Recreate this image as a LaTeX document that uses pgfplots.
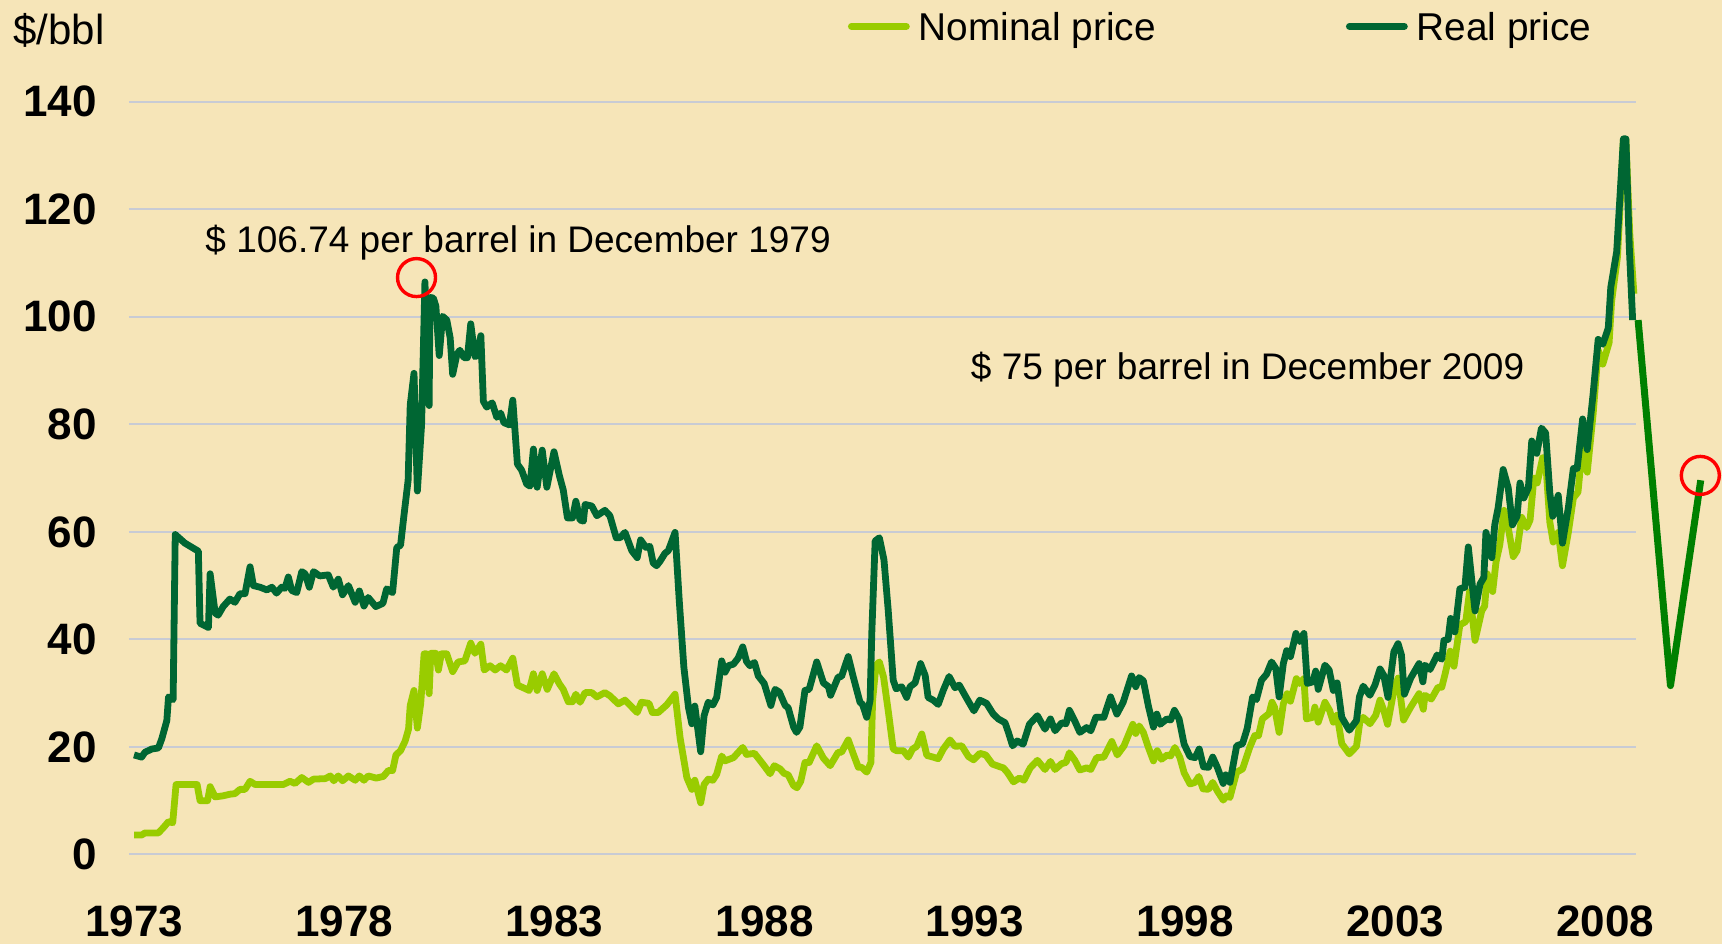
\documentclass[border=0pt]{standalone}
\usepackage{fontspec}
\setmainfont{Liberation Sans}
\usepackage{pgfplots}
\pgfplotsset{compat=1.18}
\definecolor{bgcol}{HTML}{F6E5B8}
\definecolor{nomcol}{HTML}{99CC00}
\definecolor{realcol}{HTML}{006633}
\definecolor{extcol}{HTML}{008000}
\definecolor{gridcol}{HTML}{C8CBD4}
\begin{document}
\begin{tikzpicture}
\path[fill=bgcol, use as bounding box] (-64.5pt,-44.8pt) rectangle (796.5pt,427.2pt);
\begin{axis}[
  at={(0pt,0pt)}, anchor=south west,
  scale only axis, width=753.5pt, height=376.3pt,
  xmin=1972.88, xmax=2008.73, ymin=0, ymax=140,
  axis line style={draw=none},
  major tick length=0pt,
  xtick={1973,1978,1983,1988,1993,1998,2003,2008},
  xticklabels={1973,1978,1983,1988,1993,1998,2003,2008},
  ytick={0,20,40,60,80,100,120,140},
  yticklabels={0,20,40,60,80,100,120,140},
  xticklabel style={font=\fontsize{22}{22}\selectfont\bfseries, anchor=base, inner sep=0pt, yshift=-40.8pt},
  yticklabel style={font=\fontsize{22}{22}\selectfont\bfseries, anchor=east, inner sep=0pt, xshift=-16pt},
  ymajorgrids, grid style={gridcol, line width=1pt},
  clip=false,
  legend columns=2,
  legend cell align=left,
  legend style={at={(0.4771,1.1002)}, anchor=west, draw=none, fill=none, inner sep=0pt, outer sep=0pt,
    font=\fontsize{19.4}{20}\selectfont, nodes={inner sep=0pt, text depth=0pt},
    column sep=4.5pt, /tikz/every even column/.append style={column sep=95pt}},
  legend image code/.code={\draw[#1, line cap=round] (1.5pt,0pt) -- (29pt,0pt);},
]
\addplot[nomcol, line width=3.4pt, line join=round] table {
1973.00 3.6
1973.18 3.6
1973.26 4.0
1973.58 4.0
1973.70 5.0
1973.82 6.1
1973.92 5.9
1974.00 13.0
1974.50 13.0
1974.57 10.0
1974.75 10.0
1974.81 12.6
1974.93 10.7
1975.12 10.9
1975.28 11.2
1975.40 11.3
1975.52 12.1
1975.64 12.1
1975.76 13.6
1975.88 13.0
1976.55 13.0
1976.71 13.6
1976.83 13.2
1976.99 14.3
1977.15 13.4
1977.27 14.0
1977.55 14.1
1977.67 14.6
1977.75 13.7
1977.86 14.6
1977.96 13.7
1978.10 14.6
1978.26 13.8
1978.36 14.6
1978.47 13.8
1978.57 14.6
1978.76 14.2
1978.93 14.5
1979.05 15.6
1979.15 15.6
1979.23 18.5
1979.34 19.3
1979.45 21.1
1979.53 23.3
1979.57 27.7
1979.66 30.5
1979.74 23.5
1979.82 28.1
1979.90 37.3
1979.96 37.3
1980.02 29.9
1980.06 37.4
1980.18 37.4
1980.24 34.3
1980.31 37.3
1980.44 37.3
1980.58 34.0
1980.71 35.8
1980.87 36.0
1981.01 39.3
1981.11 37.4
1981.25 39.1
1981.33 34.3
1981.47 35.1
1981.59 34.3
1981.72 35.1
1981.86 34.3
1982.01 36.5
1982.12 31.5
1982.26 31.0
1982.40 30.5
1982.50 33.6
1982.59 30.5
1982.71 33.6
1982.83 30.7
1982.99 33.6
1983.12 31.7
1983.21 30.7
1983.33 28.4
1983.43 28.4
1983.51 29.8
1983.61 28.3
1983.73 30.1
1983.89 30.1
1984.01 29.3
1984.20 30.1
1984.32 29.5
1984.52 28.0
1984.68 28.7
1984.97 26.4
1985.07 28.3
1985.25 28.1
1985.33 26.4
1985.47 26.4
1985.67 27.8
1985.87 29.8
1985.99 21.7
1986.15 14.3
1986.27 12.1
1986.34 13.8
1986.48 9.6
1986.56 13.0
1986.66 14.0
1986.77 13.8
1986.86 14.9
1986.98 18.3
1987.06 17.4
1987.26 18.0
1987.48 19.9
1987.57 18.6
1987.76 18.8
1987.97 16.7
1988.13 15.0
1988.23 16.5
1988.37 15.9
1988.46 15.1
1988.56 14.8
1988.69 12.8
1988.77 12.4
1988.86 13.6
1988.96 17.1
1989.06 17.1
1989.24 20.2
1989.40 17.9
1989.56 16.5
1989.75 19.0
1989.83 19.0
1989.99 21.3
1990.11 18.7
1990.23 16.2
1990.31 16.2
1990.43 15.3
1990.53 17.1
1990.57 28.7
1990.65 35.2
1990.73 35.8
1990.83 33.0
1990.94 26.8
1991.06 19.6
1991.14 19.3
1991.30 19.3
1991.42 18.1
1991.52 19.6
1991.62 20.1
1991.74 22.4
1991.86 18.4
1992.01 18.1
1992.13 17.8
1992.25 19.6
1992.41 21.3
1992.53 20.1
1992.69 20.2
1992.85 18.2
1992.97 17.6
1993.12 18.8
1993.26 18.5
1993.42 16.8
1993.60 16.3
1993.68 16.1
1993.78 15.2
1993.92 13.5
1994.06 14.2
1994.17 13.8
1994.32 16.1
1994.49 17.5
1994.67 15.8
1994.80 17.3
1994.91 15.8
1995.07 16.9
1995.17 17.1
1995.25 18.9
1995.38 17.5
1995.50 15.7
1995.66 16.1
1995.76 15.8
1995.90 18.0
1996.07 18.1
1996.26 21.0
1996.39 18.5
1996.55 20.2
1996.76 24.2
1996.83 22.5
1996.91 23.9
1997.01 22.7
1997.13 19.9
1997.25 17.4
1997.34 19.3
1997.44 17.7
1997.58 18.5
1997.66 18.3
1997.76 19.9
1997.88 18.0
1997.98 15.2
1998.12 13.1
1998.24 13.4
1998.33 14.5
1998.43 12.2
1998.56 12.1
1998.66 13.4
1998.77 11.8
1998.91 10.1
1998.99 10.9
1999.07 10.6
1999.23 15.3
1999.37 15.9
1999.54 19.9
1999.66 22.1
1999.75 22.1
1999.84 25.2
2000.00 26.2
2000.07 28.3
2000.13 27.4
2000.24 22.7
2000.34 28.0
2000.43 29.9
2000.51 28.5
2000.65 32.7
2000.73 31.8
2000.83 32.7
2000.89 25.2
2001.04 25.5
2001.09 27.4
2001.17 24.6
2001.33 28.3
2001.44 26.8
2001.53 24.6
2001.62 25.9
2001.73 20.6
2001.91 18.7
2002.08 20.1
2002.16 24.6
2002.24 25.5
2002.40 24.3
2002.54 25.9
2002.64 28.7
2002.73 26.8
2002.82 24.2
2002.97 30.5
2003.07 32.8
2003.20 25.0
2003.37 27.4
2003.57 29.9
2003.67 27.0
2003.71 29.6
2003.86 28.9
2004.02 31.1
2004.11 31.1
2004.19 33.6
2004.31 37.8
2004.40 35.0
2004.54 42.7
2004.68 43.3
2004.77 48.9
2004.90 39.8
2005.06 45.3
2005.13 46.2
2005.19 52.2
2005.32 48.9
2005.40 54.4
2005.49 57.6
2005.59 64.0
2005.69 60.8
2005.81 55.4
2005.90 56.5
2006.01 62.7
2006.13 60.8
2006.21 62.2
2006.30 70.0
2006.38 69.1
2006.51 73.8
2006.60 70.9
2006.68 61.8
2006.76 58.1
2006.88 59.9
2006.98 53.7
2007.12 59.9
2007.24 66.3
2007.35 67.4
2007.46 76.4
2007.57 71.1
2007.71 81.9
2007.83 93.8
2007.94 91.2
2008.09 95.2
2008.15 102.9
2008.29 111.2
2008.43 132.9
2008.49 132.9
2008.58 115.7
2008.68 104.3
};
\addlegendentry{Nominal price}
\addplot[realcol, line width=3.4pt, line join=round] table {
1973.00 18.5
1973.18 18.1
1973.26 19.0
1973.42 19.6
1973.58 19.8
1973.66 21.5
1973.78 24.9
1973.82 29.3
1973.93 28.8
1973.98 59.5
1974.21 57.9
1974.53 56.4
1974.57 43.0
1974.77 42.2
1974.81 52.2
1974.93 44.9
1975.00 44.5
1975.12 46.1
1975.28 47.5
1975.40 46.9
1975.52 48.5
1975.64 48.5
1975.76 53.5
1975.84 50.0
1976.00 49.7
1976.16 49.2
1976.28 49.7
1976.39 48.6
1976.51 49.7
1976.59 49.5
1976.67 51.6
1976.75 49.1
1976.87 48.7
1976.99 52.6
1977.07 52.2
1977.17 49.7
1977.27 52.6
1977.42 51.8
1977.62 52.0
1977.74 49.7
1977.86 51.2
1977.96 48.3
1978.10 50.0
1978.26 46.9
1978.36 49.0
1978.47 46.2
1978.57 47.8
1978.75 46.1
1978.92 46.7
1979.01 49.4
1979.15 48.7
1979.25 57.1
1979.34 57.5
1979.42 63.0
1979.52 69.6
1979.57 83.6
1979.66 89.5
1979.74 67.6
1979.84 79.9
1979.92 106.5
1980.02 83.5
1980.04 103.6
1980.12 103.5
1980.18 102.0
1980.26 92.8
1980.34 100.1
1980.44 99.4
1980.52 96.1
1980.58 89.3
1980.68 93.0
1980.75 93.8
1980.85 92.4
1980.93 92.4
1981.01 98.7
1981.11 92.6
1981.17 92.8
1981.25 96.5
1981.31 84.3
1981.39 83.2
1981.52 84.0
1981.63 81.3
1981.72 82.1
1981.80 80.3
1981.93 79.9
1982.01 84.5
1982.12 72.6
1982.22 71.5
1982.34 68.9
1982.42 68.5
1982.50 75.4
1982.59 68.3
1982.71 75.2
1982.82 68.3
1982.99 74.9
1983.12 70.4
1983.21 67.8
1983.31 62.6
1983.43 62.6
1983.51 65.7
1983.61 62.2
1983.69 62.0
1983.73 65.1
1983.89 64.8
1984.01 63.0
1984.20 64.0
1984.32 63.0
1984.47 58.9
1984.56 58.9
1984.68 59.9
1984.84 56.5
1984.97 55.2
1985.05 58.5
1985.18 57.1
1985.27 57.3
1985.35 54.2
1985.43 53.7
1985.51 54.5
1985.63 56.0
1985.71 56.5
1985.87 59.9
1985.97 47.2
1986.08 34.8
1986.19 27.3
1986.27 24.3
1986.34 27.6
1986.48 19.1
1986.56 25.8
1986.66 28.3
1986.77 27.8
1986.86 29.2
1986.98 36.0
1987.06 33.9
1987.14 35.1
1987.26 35.4
1987.37 36.5
1987.48 38.6
1987.57 35.9
1987.65 35.1
1987.76 35.7
1987.85 33.2
1987.99 31.8
1988.15 27.7
1988.25 30.7
1988.35 30.2
1988.49 27.7
1988.56 27.3
1988.69 23.7
1988.76 22.7
1988.84 23.7
1988.96 30.5
1989.06 30.7
1989.24 35.8
1989.40 31.9
1989.52 31.2
1989.57 29.6
1989.75 33.0
1989.83 33.1
1989.99 36.8
1990.11 33.0
1990.27 28.3
1990.33 27.9
1990.43 25.5
1990.51 28.7
1990.55 41.1
1990.63 58.3
1990.73 58.9
1990.84 54.8
1990.94 45.5
1991.06 32.4
1991.13 30.8
1991.26 31.2
1991.38 29.2
1991.46 31.2
1991.58 31.9
1991.71 35.5
1991.82 33.3
1991.89 29.2
1992.01 28.7
1992.13 27.9
1992.25 30.5
1992.39 33.1
1992.53 31.0
1992.63 31.5
1992.81 29.0
1992.98 26.7
1993.12 28.7
1993.28 28.1
1993.44 26.1
1993.56 25.2
1993.72 24.5
1993.80 22.7
1993.90 20.2
1994.01 21.1
1994.15 20.5
1994.30 24.2
1994.49 25.8
1994.67 23.3
1994.80 25.2
1994.91 23.0
1995.07 24.5
1995.17 24.3
1995.25 26.8
1995.38 24.8
1995.50 22.7
1995.66 23.6
1995.76 23.0
1995.88 25.5
1996.07 25.5
1996.23 29.3
1996.38 26.1
1996.53 28.3
1996.73 33.2
1996.83 31.2
1996.91 32.9
1997.01 32.3
1997.13 27.6
1997.25 23.7
1997.33 26.1
1997.41 24.2
1997.57 25.2
1997.66 25.0
1997.75 26.8
1997.86 25.2
1997.98 20.5
1998.12 18.2
1998.24 18.0
1998.34 19.6
1998.44 16.3
1998.56 16.2
1998.66 18.1
1998.77 16.2
1998.91 13.2
1998.97 14.8
1999.07 13.4
1999.23 20.2
1999.37 20.6
1999.48 23.4
1999.61 29.3
1999.70 28.8
1999.82 32.4
1999.94 33.5
2000.06 35.8
2000.16 34.6
2000.24 29.3
2000.34 35.5
2000.42 37.9
2000.51 36.8
2000.64 41.1
2000.73 39.6
2000.83 41.1
2000.91 31.8
2001.04 32.1
2001.11 34.1
2001.17 30.7
2001.33 35.2
2001.43 34.3
2001.53 30.5
2001.62 31.9
2001.73 25.5
2001.91 23.1
2002.08 24.9
2002.15 29.3
2002.24 31.3
2002.40 29.6
2002.52 31.5
2002.64 34.5
2002.73 33.3
2002.83 29.2
2002.97 37.7
2003.07 39.2
2003.15 37.1
2003.22 29.8
2003.37 32.8
2003.57 35.5
2003.66 32.1
2003.71 35.2
2003.83 34.4
2004.00 37.1
2004.11 36.3
2004.16 39.8
2004.26 40.0
2004.32 43.9
2004.42 41.4
2004.54 49.4
2004.66 49.7
2004.74 57.2
2004.90 45.3
2005.02 50.3
2005.11 51.5
2005.16 59.9
2005.30 55.2
2005.37 61.3
2005.45 64.5
2005.57 71.6
2005.69 68.2
2005.79 61.3
2005.90 62.9
2005.97 69.1
2006.06 66.3
2006.17 68.2
2006.25 76.9
2006.37 74.6
2006.48 79.3
2006.58 78.4
2006.68 67.2
2006.75 62.9
2006.88 66.8
2006.98 57.9
2007.12 64.5
2007.24 71.8
2007.33 71.8
2007.46 81.0
2007.57 75.3
2007.71 85.7
2007.83 95.8
2007.94 94.9
2008.07 97.9
2008.13 105.5
2008.27 112.1
2008.43 133.1
2008.49 133.1
2008.57 113.0
2008.65 99.4
};
\addlegendentry{Real price}
\addplot[extcol, line width=3.5pt, line join=round, forget plot] table {
2008.78 99.4
2009.55 31.4
2010.27 69.6
};
\addplot[only marks, mark=o, mark size=9.5pt, mark options={draw=red, line width=1.7pt}, forget plot] table {
1979.72 107.3
2010.26 70.5
};
\node[anchor=base west, inner sep=0pt, font=\fontsize{18.5}{19}\selectfont] at (axis cs:1974.69,111.9) {\$ 106.74 per barrel in December 1979};
\node[anchor=base west, inner sep=0pt, font=\fontsize{18.5}{19}\selectfont] at (axis cs:1992.9,88.3) {\$ 75 per barrel in December 2009};
\node[anchor=base west, inner sep=0pt, font=\fontsize{21}{21}\selectfont] at (axis description cs:-0.07697,1.0768) {\$/bbl};
\end{axis}
\end{tikzpicture}
\end{document}
